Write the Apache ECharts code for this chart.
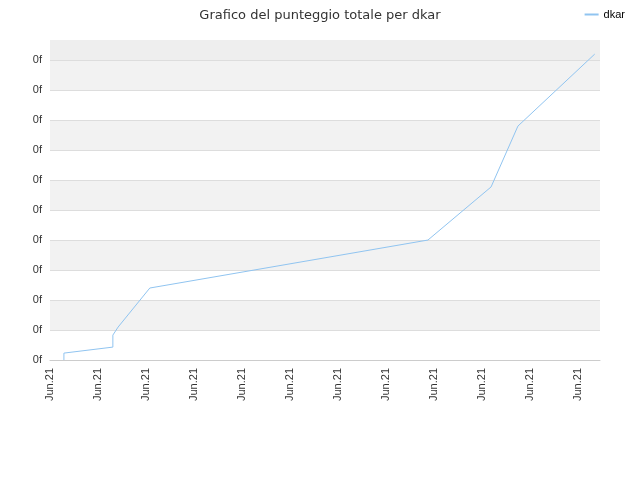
<!DOCTYPE html>
<html><head><meta charset="utf-8">
<script src="https://cdn.jsdelivr.net/npm/echarts@6/dist/echarts.min.js"></script>
</head><body style="margin:0">
<div id="c" style="width:640px;height:480px"></div>
<script>
const xTickLabels = ['Jun.21','Jun.21','Jun.21','Jun.21','Jun.21','Jun.21','Jun.21','Jun.21','Jun.21','Jun.21','Jun.21','Jun.21'];
const xValues = [0.29, 0.29, 1.31, 1.31, 1.42, 2.08, 7.875, 9.19, 9.75, 11.35];
const yValues = [0, 0.23, 0.43, 0.83, 1.1, 2.4, 4.0, 5.77, 7.8, 10.2];
const chart = echarts.init(document.getElementById('c'));
chart.setOption({
  animation:false,
  title:{text:'Grafico del punteggio totale per dkar',left:'center',top:4,textStyle:{fontSize:13,fontWeight:'normal',color:'#333',fontFamily:'DejaVu Sans'}},
  legend:{right:10,top:4,itemWidth:14,itemHeight:2,icon:'rect',textStyle:{fontSize:11,color:'#000'},data:['dkar']},
  grid:{left:50,right:40,top:40,bottom:120},
  xAxis:{type:'value',min:0,max:11.46,interval:1,
    axisLine:{lineStyle:{color:'#ccc'}},axisTick:{show:false},splitLine:{show:false},
    axisLabel:{rotate:90,color:'#333',fontSize:11,showMaxLabel:false,formatter:(v)=>xTickLabels[Math.round(v)]||''}},
  yAxis:{type:'value',min:0,max:10.67,interval:1,
    axisLine:{show:false},axisTick:{show:false},
    axisLabel:{color:'#333',fontSize:11,showMaxLabel:false,formatter:()=>'0f'},
    splitLine:{lineStyle:{color:'#ddd'}},
    splitArea:{show:true,areaStyle:{color:['#ffffff','#f2f2f2']}}},
  series:[{name:'dkar',type:'line',symbol:'none',
    lineStyle:{color:'#90c4f0',width:1},itemStyle:{color:'#90c4f0'},
    data:xValues.map((x,i)=>[x,yValues[i]]),
    markArea:{silent:true,itemStyle:{color:'#eeeeee'},data:[[{yAxis:10},{yAxis:10.67}]]}}]
});
</script></body></html>
